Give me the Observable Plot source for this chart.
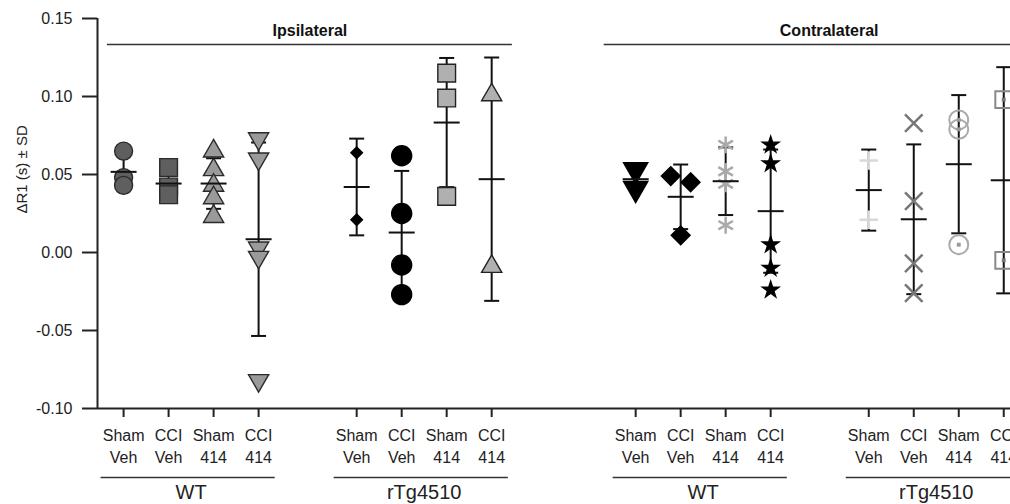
<!DOCTYPE html>
<html>
<head>
<meta charset="utf-8">
<script src="https://cdn.jsdelivr.net/npm/d3@7"></script>
<script src="https://cdn.jsdelivr.net/npm/@observablehq/plot@0.6"></script>
<style>
  html, body { margin: 0; padding: 0; background: #fff; }
  #chart svg { display: block; }
</style>
</head>
<body>
<div id="chart"></div>
<script>
// ---------- data ----------
const sides = ["Ipsilateral", "Contralateral"];
const genotypes = ["WT", "rTg4510"];
const treatments = ["Sham\nVeh", "CCI\nVeh", "Sham\n414", "CCI\n414"];
const yTicks = [-0.10, -0.05, 0.00, 0.05, 0.10, 0.15];
const yLabel = "ΔR1 (s) ± SD";

// individual animals, group order: side > genotype > treatment
const values = [
  [0.065, 0.048, 0.043],
  [0.0545, 0.042, 0.037],
  [0.065, 0.053, 0.043, 0.035, 0.023],
  [0.073, 0.060, 0.003, -0.003, -0.082],
  [0.064, 0.021],
  [0.062, 0.025, -0.008, -0.027],
  [0.115, 0.099, 0.036],
  [0.101, -0.009],
  [0.053, 0.041],
  [0.049, 0.045, 0.011],
  [0.069, 0.052, 0.044, 0.0175],
  [0.069, 0.057, 0.005, -0.010, -0.024],
  [0.059, 0.021],
  [0.083, 0.033, -0.007, -0.026],
  [0.085, 0.079, 0.005],
  [0.098, -0.005]
];
const means = [0.0517, 0.0442, 0.0442, 0.0085, 0.042, 0.0128, 0.0833, 0.047,
               0.047, 0.0357, 0.0457, 0.0265, 0.040, 0.0213, 0.0566, 0.0463];
const sds   = [0.0115, 0.009, 0.0162, 0.062, 0.031, 0.0395, 0.0414, 0.078,
               0.006, 0.0207, 0.0217, 0.0395, 0.026, 0.048, 0.0443, 0.0725];

// ---------- layout / style (not data) ----------
const SIDE_STEP = 11.38, GENO_STEP = 5.18;
const xDomain = [-0.58, 19.71];
const font = "'Liberation Sans', Arial, Helvetica, sans-serif";
const dark = "#2a2a2a";
const styles = [
  {symbol: "circle",   fill: "#5f5f5f", stroke: dark, r: 9},
  {symbol: "square",   fill: "#5f5f5f", stroke: dark, r: 10},
  {symbol: "triangle", fill: "#9a9a9a", stroke: dark, r: 7.5},
  {symbol: "triangle", fill: "#9a9a9a", stroke: dark, r: 7.5, rotate: 180},
  {symbol: "diamond2", fill: "#000", stroke: "#000", r: 5.2},
  {symbol: "circle",   fill: "#000", stroke: "#000", r: 10},
  {symbol: "square",   fill: "#b0b0b0", stroke: "#222", r: 10},
  {symbol: "triangle", fill: "#b0b0b0", stroke: "#222", r: 7.5},
  {symbol: "triangle", fill: "#000", stroke: "#000", r: 9, rotate: 180},
  {symbol: "diamond2", fill: "#000", stroke: "#000", r: 8.5, jitter: [-0.22, 0.22, 0]},
  {symbol: "asterisk", fill: "none", stroke: "#aaaaaa", r: 8, strokeWidth: 2.5},
  {symbol: "star",     fill: "#000", stroke: "#000", r: 5.2},
  {symbol: "plus",     fill: "none", stroke: "#d8d8d8", r: 6, strokeWidth: 2.5},
  {symbol: "times",    fill: "none", stroke: "#777777", r: 8, strokeWidth: 2.5},
  {symbol: "circle",   fill: "none", stroke: "#aaaaaa", r: 9.5, strokeWidth: 2, center: "#999"},
  {symbol: "square",   fill: "none", stroke: "#888888", r: 9.5, strokeWidth: 2, center: "#777"}
];
const topSpan = [[-0.36, 8.64], [-0.70, 9.30]];
const groupSpan = [-0.5, 3.37];

// horizontal line symbol for caps / means
const hline = {draw(ctx, size) { const w = Math.sqrt(size / Math.PI); ctx.moveTo(-w, 0); ctx.lineTo(w, 0); }};

// ---------- derived tables ----------
const groups = [];
sides.forEach((s, si) => genotypes.forEach((g, gi) => treatments.forEach((t, ti) => {
  const i = groups.length;
  groups.push({i, side: s, geno: g, treat: t, x: si * SIDE_STEP + gi * GENO_STEP + ti,
               mean: means[i], sd: sds[i]});
})));
const genoBlocks = [];
sides.forEach((s, si) => genotypes.forEach((g, gi) => {
  const x0 = si * SIDE_STEP + gi * GENO_STEP;
  genoBlocks.push({label: g, x1: x0 + groupSpan[0], x2: x0 + groupSpan[1], xc: x0 + 1.5});
}));
const sideBlocks = sides.map((s, si) => ({label: s, x1: si * SIDE_STEP + topSpan[si][0], x2: si * SIDE_STEP + topSpan[si][1]}));

const pointMarks = groups.map(gr => {
  const st = styles[gr.i];
  const rows = values[gr.i].map((v, k) => ({x: gr.x + (st.jitter ? st.jitter[k] : 0), v}));
  const m = [Plot.dot(rows, {x: "x", y: "v", symbol: st.symbol, r: st.r, fill: st.fill, stroke: st.stroke,
    strokeWidth: st.strokeWidth ?? 1.4, rotate: st.rotate ?? 0})];
  if (st.center) m.push(Plot.dot(rows, {x: "x", y: "v", symbol: "square", r: 2.2, fill: st.center, stroke: "none"}));
  return m;
}).flat();

const plot = Plot.plot({
  width: 1010, height: 504,
  marginLeft: 97, marginRight: 0, marginTop: 18, marginBottom: 96,
  style: {fontFamily: font, color: "#222", background: "#fff"},
  x: {domain: xDomain, axis: null},
  y: {domain: [-0.10, 0.15], axis: null},
  marks: [
    // axes
    Plot.axisY({ticks: yTicks, tickFormat: d => d.toFixed(2), tickSize: 15, tickPadding: 10,
      fontSize: 16, strokeWidth: 2, label: null}),
    Plot.ruleX([xDomain[0]], {x: d => d, stroke: "#222", strokeWidth: 2}),
    Plot.ruleY([-0.10], {y: d => d, stroke: "#222", strokeWidth: 2}),
    Plot.axisX({ticks: groups.map(d => d.x), tickFormat: () => "", tickSize: 9, strokeWidth: 2, label: null}),
    Plot.text([yLabel], {frameAnchor: "left", dx: -75, rotate: -90, fontSize: 15, fill: "#222"}),
    // category labels
    Plot.text(groups, {x: "x", text: "treat", frameAnchor: "bottom", dy: 17, lineAnchor: "top",
      lineHeight: 1.36, fontSize: 16, fill: "#222"}),
    Plot.ruleY(genoBlocks, {y: () => -0.10, x1: "x1", x2: "x2", dy: 69, stroke: "#333", strokeWidth: 1.5}),
    Plot.text(genoBlocks, {x: "xc", text: "label", frameAnchor: "bottom", dy: 90, fontSize: 20, fill: "#222"}),
    // side headers
    Plot.ruleY(sideBlocks, {y: () => 0.15, x1: "x1", x2: "x2", dy: 26, stroke: "#333", strokeWidth: 1.5}),
    Plot.text(sideBlocks, {x: d => (d.x1 + d.x2) / 2, y: () => 0.15, dy: 12, text: "label",
      fontSize: 16, fontWeight: "bold", fill: "#111"}),
    // error bars (under points)
    Plot.ruleX(groups, {x: "x", y1: d => d.mean - d.sd, y2: d => d.mean + d.sd, stroke: "#111", strokeWidth: 2}),
    Plot.dot(groups, {x: "x", y: d => d.mean - d.sd, symbol: hline, r: 7.5, fill: "none", stroke: "#111", strokeWidth: 2}),
    Plot.dot(groups, {x: "x", y: d => d.mean + d.sd, symbol: hline, r: 7.5, fill: "none", stroke: "#111", strokeWidth: 2}),
    ...pointMarks,
    // means (over points)
    Plot.dot(groups, {x: "x", y: "mean", symbol: hline, r: 13, fill: "none", stroke: "#111", strokeWidth: 2})
  ]
});
document.getElementById("chart").appendChild(plot);
</script>
</body>
</html>
